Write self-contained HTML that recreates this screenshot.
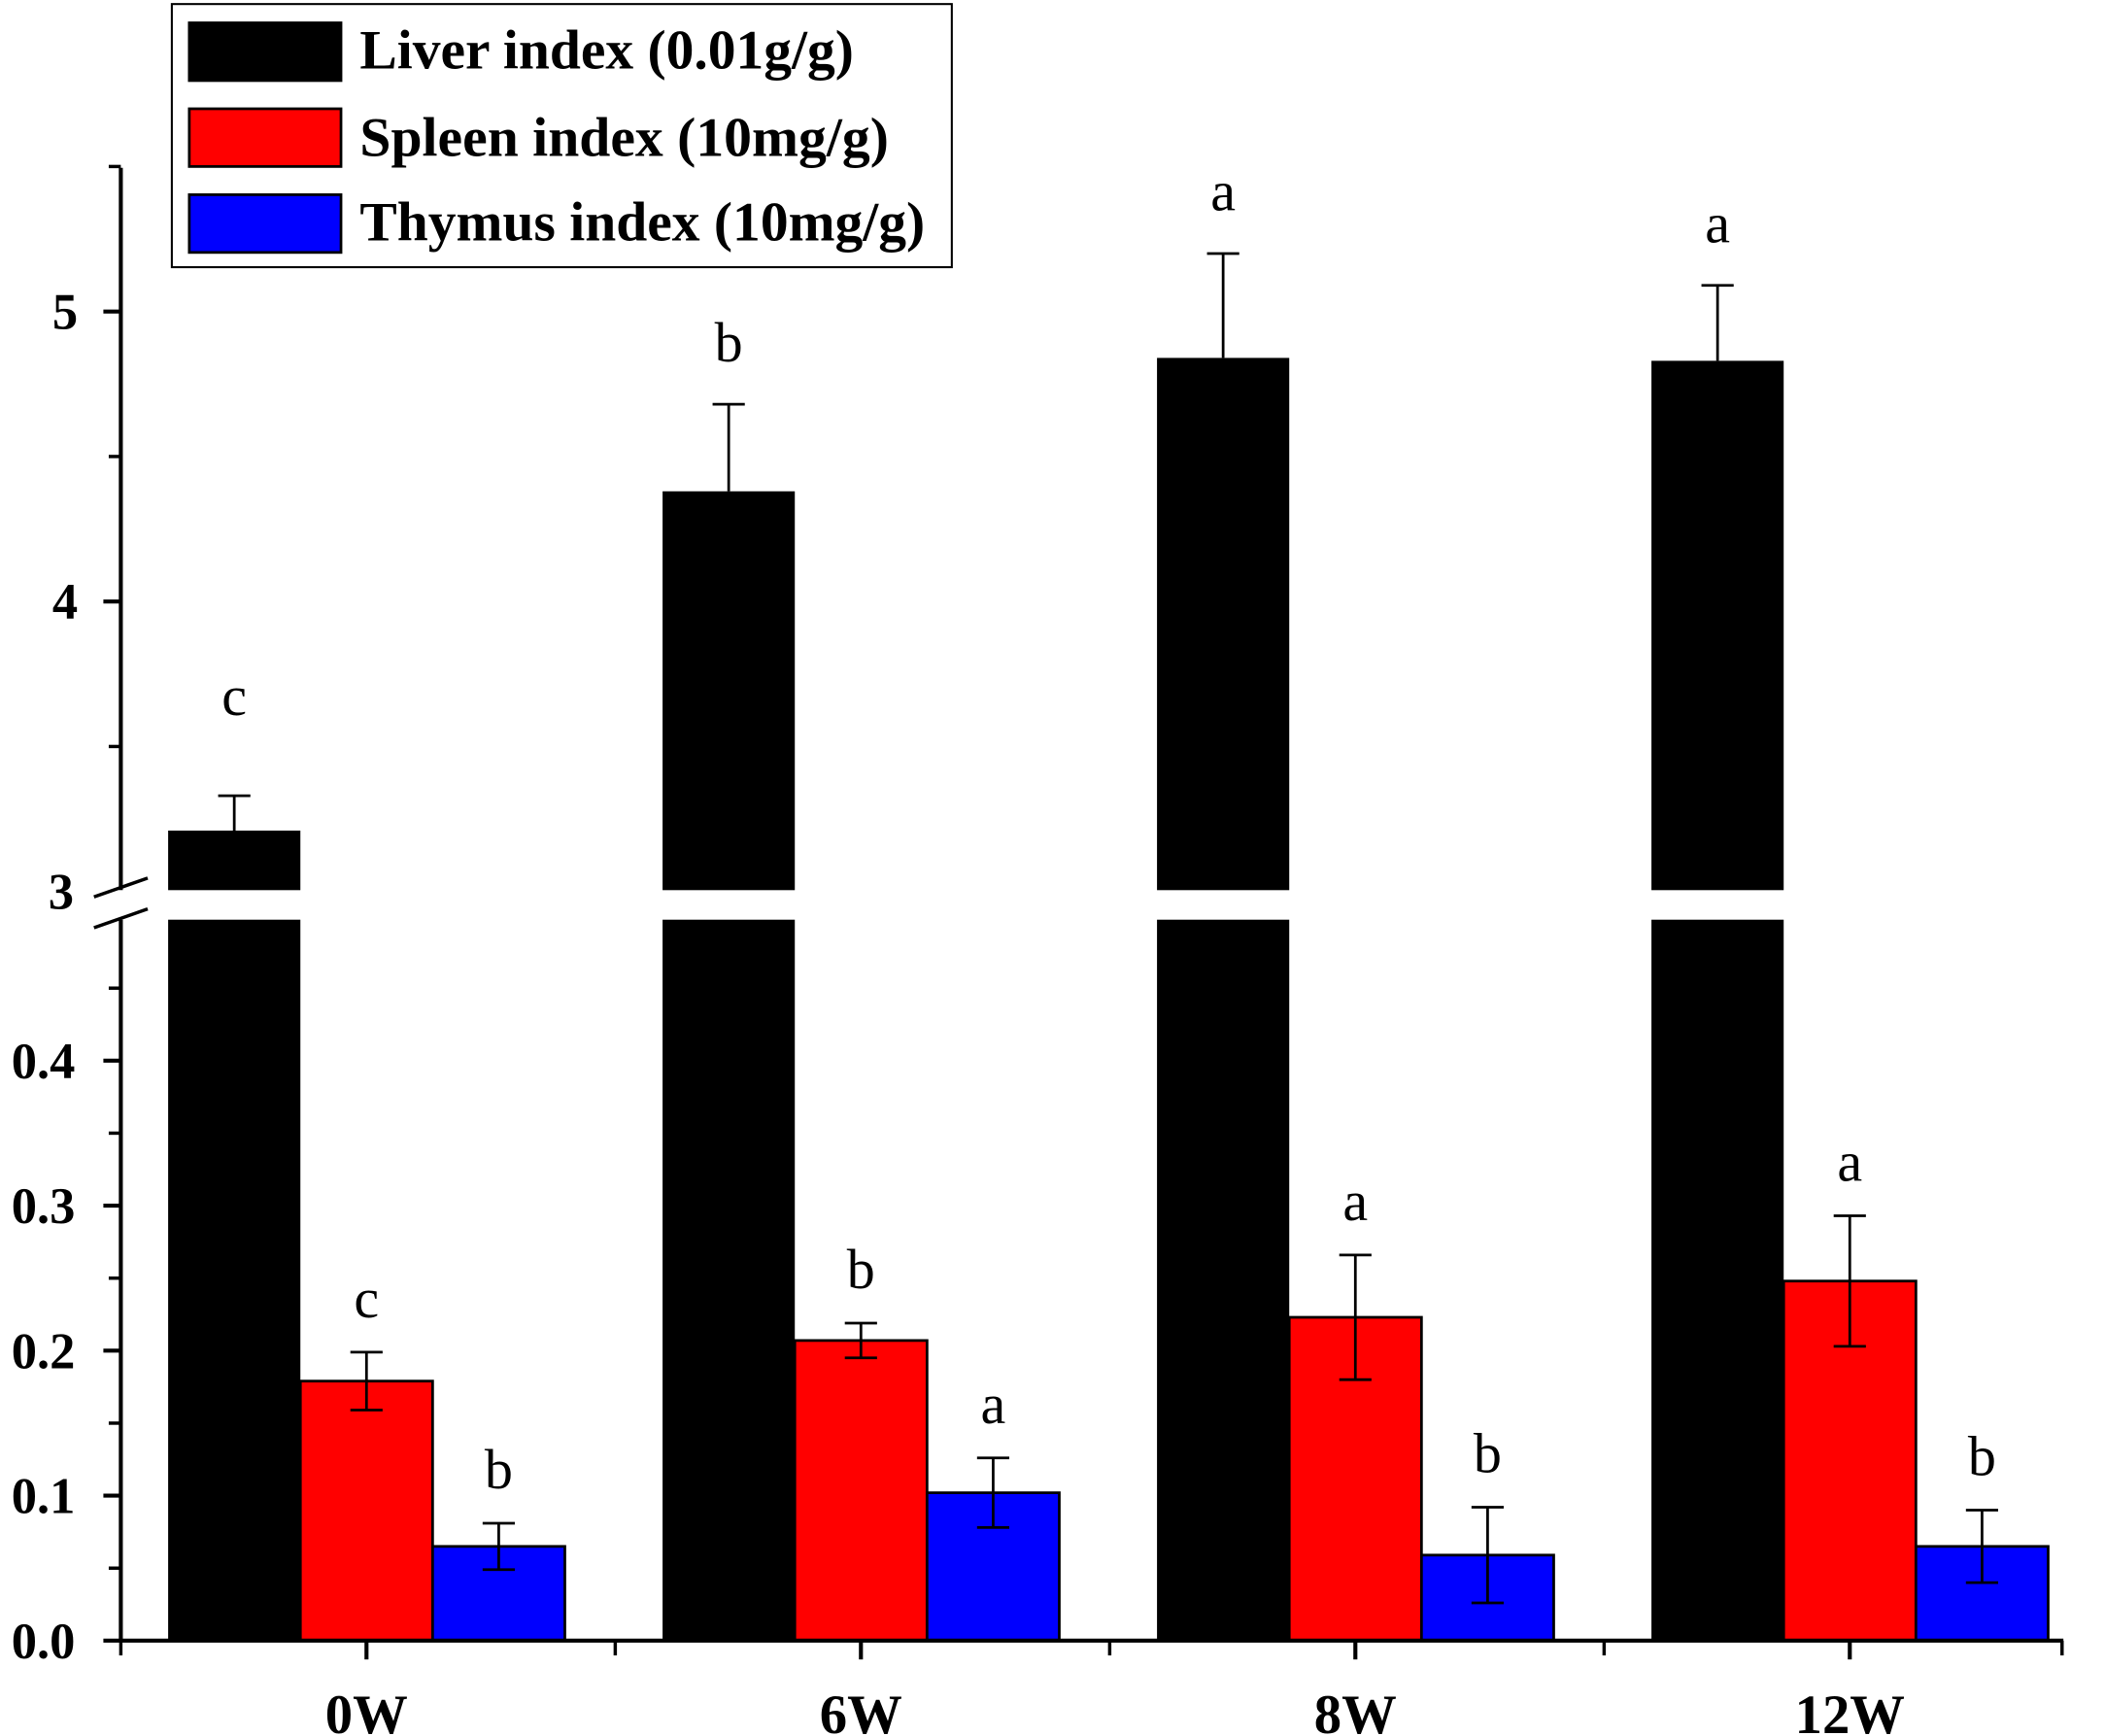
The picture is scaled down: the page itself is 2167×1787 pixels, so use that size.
<!DOCTYPE html>
<html><head><meta charset="utf-8"><style>
html,body{margin:0;padding:0;background:#fff;}
svg{display:block;}
text{font-family:"Liberation Serif",serif;}
</style></head><body>
<svg id="chart" width="2167" height="1787" viewBox="0 0 1568 1293" xmlns="http://www.w3.org/2000/svg">
<g id="marks"></g>
<g>
<rect x="128" y="3" width="581" height="196" fill="#fff" stroke="#000" stroke-width="1.5"/>
<rect x="141" y="17" width="113" height="43" fill="#000" stroke="#000" stroke-width="2"/>
<rect x="141" y="81" width="113" height="43" fill="#f00" stroke="#000" stroke-width="2"/>
<rect x="141" y="145" width="113" height="43" fill="#00f" stroke="#000" stroke-width="2"/>
<text x="268" y="51" font-size="41" font-weight="bold" textLength="368" lengthAdjust="spacingAndGlyphs">Liver index (0.01g/g)</text>
<text x="268" y="116" font-size="41" font-weight="bold" textLength="394" lengthAdjust="spacingAndGlyphs">Spleen index (10mg/g)</text>
<text x="268" y="179" font-size="41" font-weight="bold" textLength="421" lengthAdjust="spacingAndGlyphs">Thymus index (10mg/g)</text>
</g>
</svg>
<script>
const categories=["0W","6W","8W","12W"];
const liver=[3.21,4.38,4.84,4.83];
const liverErr=[0.12,0.30,0.36,0.26];
const spleen=[0.179,0.207,0.223,0.248];
const spleenErr=[0.020,0.012,0.043,0.045];
const thymus=[0.065,0.102,0.059,0.065];
const thymusErr=[0.016,0.024,0.033,0.025];
const liverLetters=["c","b","a","a"];
const spleenLetters=["c","b","a","a"];
const thymusLetters=["b","a","b","b"];
const upperTicks=["3","4","5"];
const lowerTicks=["0.0","0.1","0.2","0.3","0.4"];

const NS="http://www.w3.org/2000/svg";
const g=document.getElementById('marks');
function el(t,a,txt){const e=document.createElementNS(NS,t);for(const k in a)e.setAttribute(k,a[k]);if(txt!==undefined)e.textContent=txt;g.appendChild(e);return e;}
const X0=90,X1=1537,BASE=1222,LOWTOP=685,UPBOT=663,UPTOP=125;
function yLow(v){return BASE-1080*v;}
function yUp(v){return 664-216*(v-3);}
function yVal(v){return v>=3?yUp(v):yLow(v);}
function xCenter(i){return 273+368.3*i;}
const bw=98.5;

const series=[[liver,liverErr,liverLetters,"#000","liver"],[spleen,spleenErr,spleenLetters,"#f00","spleen"],[thymus,thymusErr,thymusLetters,"#00f","thymus"]];
series.forEach((s,si)=>{
  categories.forEach((c,i)=>{
    const x=xCenter(i)-bw*1.5+si*bw;
    const v=s[0][i],y=yVal(v);
    const r=el('rect',{x:x,y:y,width:bw,height:BASE-y,fill:s[3],stroke:"#000","stroke-width":si?2:0});
    
    
    if(v>=3){
      const gap=el('rect',{x:x-3,y:UPBOT,width:bw+6,height:LOWTOP-UPBOT,fill:"#fff"});
      
      
    }
    const cx=x+bw/2,et=yVal(v+s[1][i]),eb=yVal(v-s[1][i]);
    const bot=si===0?y:eb;
    const e=el('path',{d:`M${cx},${bot}V${et}M${cx-12},${et}H${cx+12}`+(si?`M${cx-12},${eb}H${cx+12}`:''),stroke:"#000","stroke-width":2,fill:"none"});
    
    
    const off=si===0?(i===0?60:32):26;
    const t=el('text',{x:cx,y:et-off,"font-size":42,"text-anchor":"middle"},s[2][i]);
    
    
  });
});
const ya=el('path',{d:`M${X0},${UPTOP}V${UPBOT}M${X0},${LOWTOP}V${BASE+1}`,stroke:"#000","stroke-width":3,fill:"none"});


const br=el('path',{d:`M70,668L110,654M70,691L110,677`,stroke:"#000","stroke-width":2.5,fill:"none"});


upperTicks.forEach(l=>{const v=+l,y=yUp(v);
  if(v>3)el('line',{x1:X0-13,x2:X0,y1:y,y2:y,stroke:"#000","stroke-width":3});
  const t=el('text',{x:v>3?58:55,y:y+13,"font-size":38,"font-weight":"bold","text-anchor":"end"},l);
  
  
});
[3.5,4.5,5.5].forEach(v=>el('line',{x1:X0-9,x2:X0,y1:yUp(v),y2:yUp(v),stroke:"#000","stroke-width":2.5}));
lowerTicks.forEach(l=>{const v=+l,y=yLow(v);
  el('line',{x1:X0-13,x2:X0,y1:y,y2:y,stroke:"#000","stroke-width":3});
  const t=el('text',{x:56,y:y+13,"font-size":38,"font-weight":"bold","text-anchor":"end"},l);
  
  
});
[0.05,0.15,0.25,0.35,0.45].forEach(v=>el('line',{x1:X0-9,x2:X0,y1:yLow(v),y2:yLow(v),stroke:"#000","stroke-width":2.5}));
const xa=el('line',{x1:X0,x2:X1,y1:BASE,y2:BASE,stroke:"#000","stroke-width":3});


for(let i=0;i<=4;i++){const x=X0+(xCenter(1)-xCenter(0))*i;el('line',{x1:Math.min(x,X1-1),x2:Math.min(x,X1-1),y1:BASE,y2:BASE+11,stroke:"#000","stroke-width":2.5});}
categories.forEach((c,i)=>{const x=xCenter(i);
  el('line',{x1:x,x2:x,y1:BASE,y2:BASE+14,stroke:"#000","stroke-width":3});
  const t=el('text',{x:x,y:1291,"font-size":41,"font-weight":"bold","text-anchor":"middle"},c);
  
  
});
</script>
</body></html>
